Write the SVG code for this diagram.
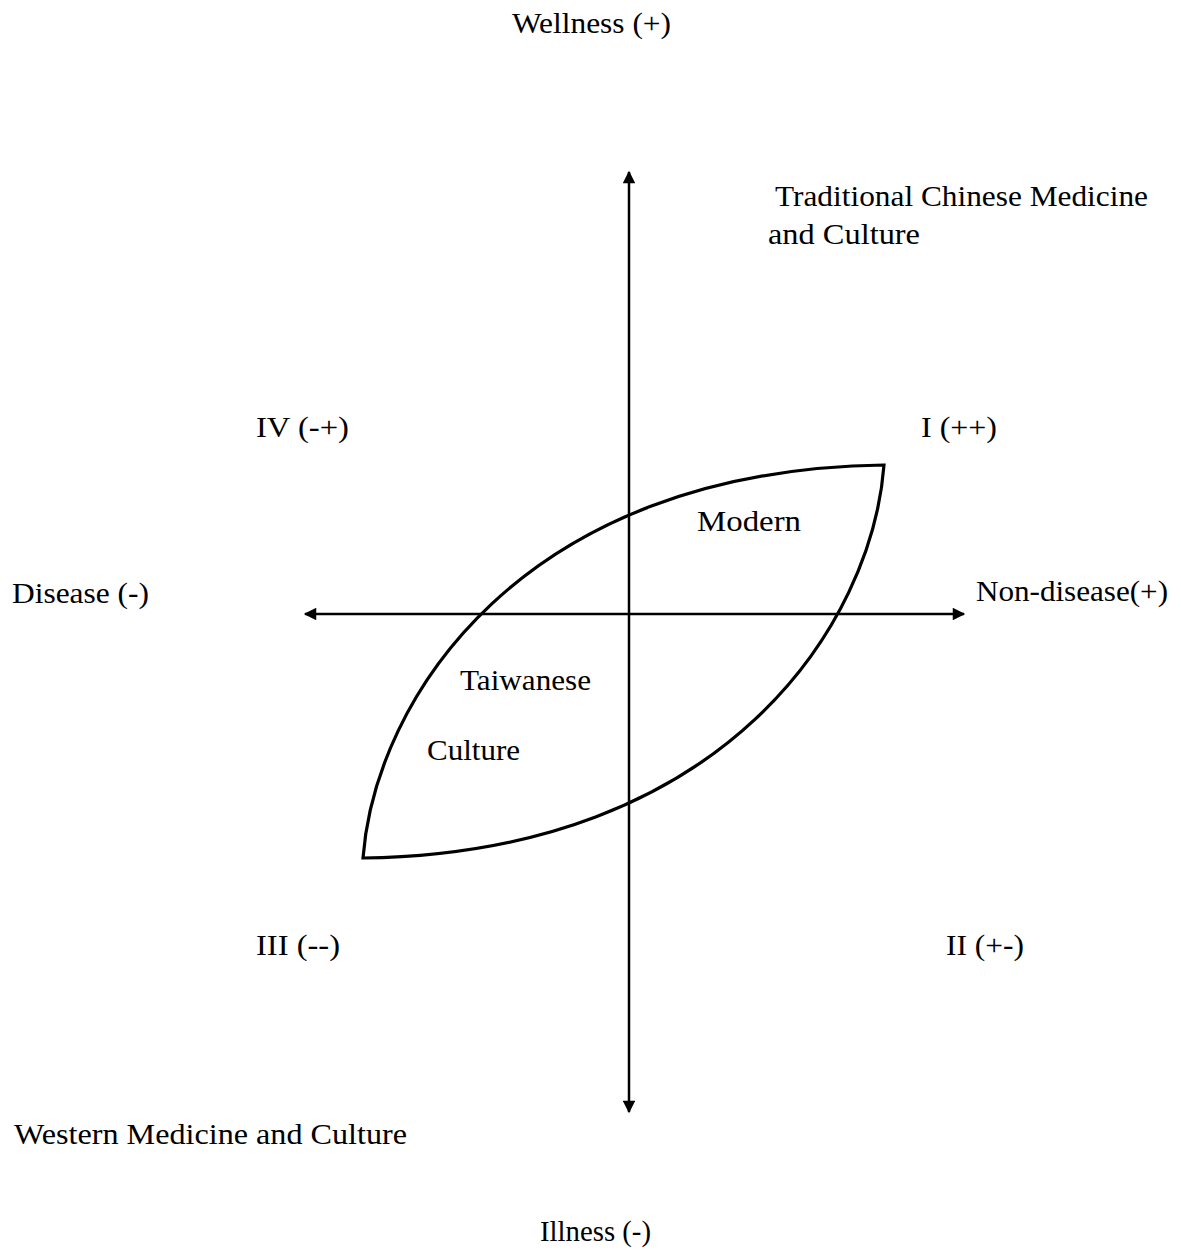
<svg xmlns="http://www.w3.org/2000/svg" width="1181" height="1252" viewBox="0 0 1181 1252">
<defs>
<style>
text{font-family:"Liberation Serif","Times New Roman",serif;font-size:30px;fill:#000}
.ax{stroke:#000;stroke-width:2.5;fill:none}
.lens{stroke:#000;stroke-width:3.2;fill:none;stroke-linejoin:miter}
</style>
<marker id="ah" viewBox="0 0 10 10" refX="9" refY="5" markerWidth="5.5" markerHeight="5" markerUnits="strokeWidth" orient="auto-start-reverse">
<path d="M0,0 L10,5 L0,10 z" fill="#000"/>
</marker>
</defs>
<rect width="1181" height="1252" fill="#fff"/>
<g id="connectors">
<line id="v-axis" class="ax" x1="629" y1="172" x2="629" y2="1112" marker-start="url(#ah)" marker-end="url(#ah)"/>
<line id="h-axis" class="ax" x1="305" y1="614" x2="964" y2="614" marker-start="url(#ah)" marker-end="url(#ah)"/>
</g>
<g id="lens">
<path class="lens" d="M363,858 C375,700 520,470 884,465 C872,623 727,853 363,858 Z"/>
</g>
<g id="labels">
<text id="wellness" x="512" y="33" textLength="159" lengthAdjust="spacingAndGlyphs">Wellness (+)</text>
<text id="tcm" x="775" y="206" textLength="373" lengthAdjust="spacingAndGlyphs">Traditional Chinese Medicine</text>
<text id="tcm2" x="768" y="244" textLength="152" lengthAdjust="spacingAndGlyphs">and Culture</text>
<text id="q4" x="256" y="437" textLength="93" lengthAdjust="spacingAndGlyphs">IV (-+)</text>
<text id="q1" x="921" y="437" textLength="76" lengthAdjust="spacingAndGlyphs">I (++)</text>
<text id="modern" x="697" y="531" textLength="104" lengthAdjust="spacingAndGlyphs">Modern</text>
<text id="disease" x="12" y="603" textLength="137" lengthAdjust="spacingAndGlyphs">Disease (-)</text>
<text id="nondisease" x="976" y="601" textLength="192" lengthAdjust="spacingAndGlyphs">Non-disease(+)</text>
<text id="taiwanese" x="460" y="690" textLength="131" lengthAdjust="spacingAndGlyphs">Taiwanese</text>
<text id="culture" x="427" y="760" textLength="93" lengthAdjust="spacingAndGlyphs">Culture</text>
<text id="q3" x="256" y="955" textLength="84" lengthAdjust="spacingAndGlyphs">III (--)</text>
<text id="q2" x="946" y="955" textLength="78" lengthAdjust="spacingAndGlyphs">II (+-)</text>
<text id="western" x="14" y="1144" textLength="393" lengthAdjust="spacingAndGlyphs">Western Medicine and Culture</text>
<text id="illness" x="540" y="1241" textLength="111" lengthAdjust="spacingAndGlyphs">Illness (-)</text>
</g>
</svg>
